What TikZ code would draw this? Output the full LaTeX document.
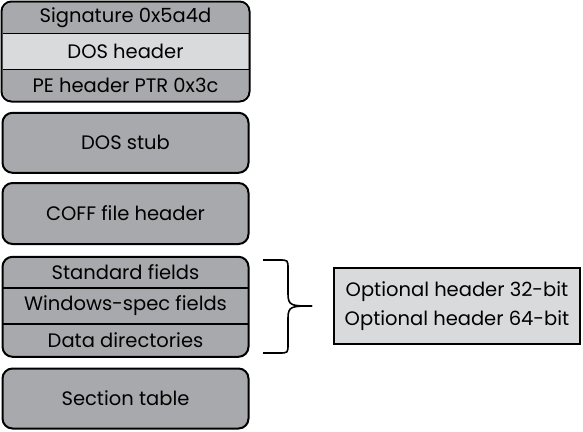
\documentclass[tikz,border=0pt]{standalone}
\usepackage{fontspec}
\setmainfont{Poppins}
\definecolor{midgray}{HTML}{A7A9AC}
\definecolor{lightgray2}{HTML}{D9DADB}
\begin{document}
\begin{tikzpicture}[x=1pt,y=-1pt,
  frame/.style={draw=black, line width=2pt, rounded corners=10pt, fill=midgray, inner sep=0pt},
  plainbox/.style={draw=black, line width=2pt, fill=lightgray2, inner sep=0pt},
  lbl/.style={font=\fontsize{19.5}{23}\selectfont, inner sep=0pt},
  divider/.style={line width=1.3pt},
  bracestyle/.style={line width=1.6pt}]
\useasboundingbox (0,0) rectangle (583,431);
% DOS header group
\node[frame, draw=none, minimum width=246pt, minimum height=98pt] (dosgrp) at (125.5,51.5) {};
\fill[lightgray2] (3.2,33.5) rectangle (247.8,69.5);
\draw[divider] (2.5,33.5) -- (248.5,33.5);
\draw[divider] (2.5,69.5) -- (248.5,69.5);
\draw[line width=2pt, rounded corners=10pt] (dosgrp.north west) rectangle (dosgrp.south east);
\node[lbl] (sig) at (125.5,18) {Signature 0x5a4d};
\node[lbl] (doshdr) at (125.5,51.5) {DOS header};
\node[lbl] (peptr) at (125.5,85) {PE header PTR 0x3c};
% DOS stub
\node[frame, minimum width=246pt, minimum height=60pt] (stub) at (125.5,142.8) {};
\node[lbl] at (stub.center) {DOS stub};
% COFF
\node[frame, minimum width=246pt, minimum height=61pt] (coff) at (125.5,213.5) {};
\node[lbl] at (coff.center) {COFF file header};
% Optional header group
\node[frame, minimum width=246pt, minimum height=100pt] (optgrp) at (125.5,306.8) {};
\draw[divider] (2.5,288) -- (248.5,288);
\draw[divider] (2.5,324) -- (248.5,324);
\node[lbl] (stdf) at (125.5,272) {Standard fields};
\node[lbl] (winf) at (125.5,305.5) {Windows-spec fields};
\node[lbl] (datad) at (125.5,340.5) {Data directories};
% Section table
\node[frame, minimum width=246pt, minimum height=60pt] (sect) at (125.5,398.5) {};
\node[lbl] at (sect.center) {Section table};
% Optional header box
\node[plainbox, minimum width=246pt, minimum height=76pt, align=center, font=\fontsize{19.5}{29}\selectfont] (opt) at (457,306) {Optional header 32-bit\\Optional header 64-bit};
% brace
\coordinate (btop) at (263,260);
\coordinate (bbot) at (263,353);
\coordinate (btip) at (312,306);
\draw[bracestyle, line join=round] (btop) -- (279,260) .. controls (288,260) .. (288,269) -- (288,294)
  .. controls (288,306) and (292,306) .. (btip);
\draw[bracestyle, line join=round] (bbot) -- (279,353) .. controls (288,353) .. (288,344) -- (288,318)
  .. controls (288,306) and (292,306) .. (btip);
\end{tikzpicture}
\end{document}
